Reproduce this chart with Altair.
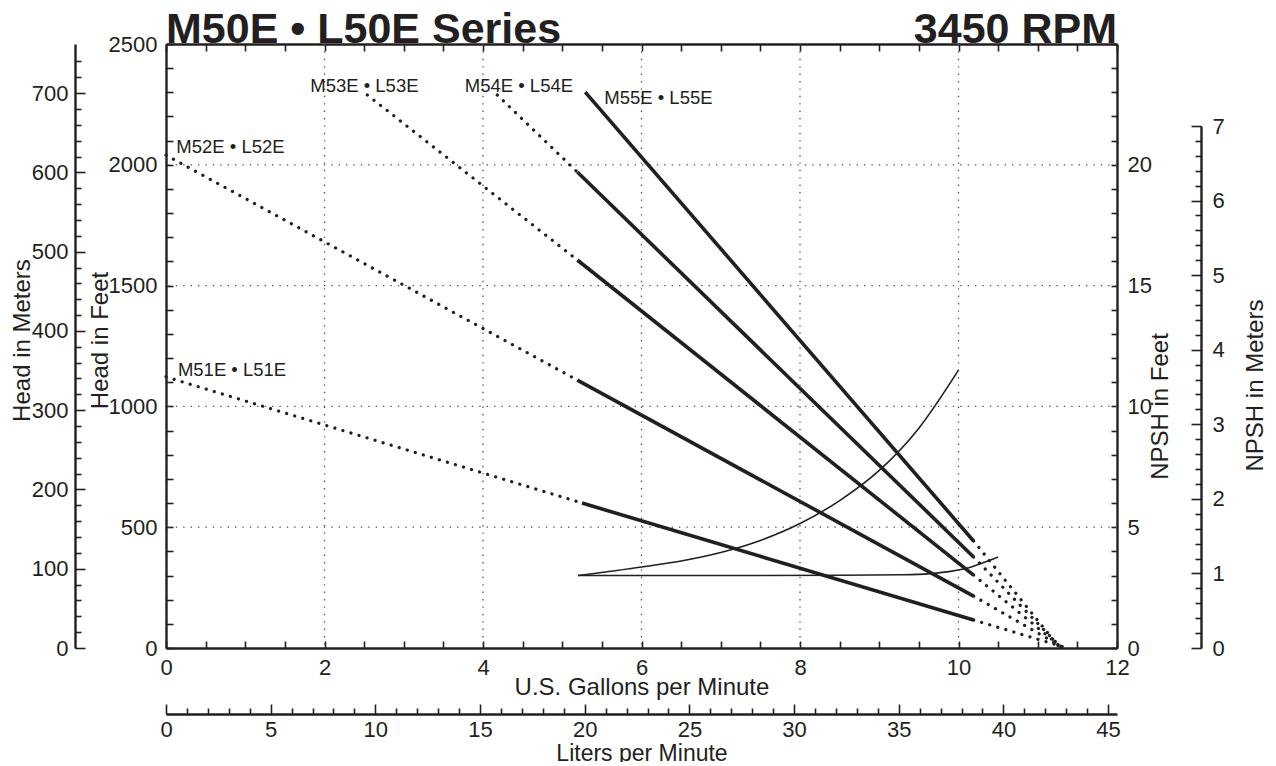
import altair as alt
import pandas as pd

W, H = 951, 604
INK = "#231f20"
FONT = "Liberation Sans"

# ---------------- data ----------------
models = ["M51E", "M52E", "M53E", "M54E", "M55E"]
dot_start_gpm = [0.0, 0.0, 2.54, 4.18, None]
dot_start_ft = [1122, 2040, 2289, 2289, None]
solid_start_gpm = [5.25, 5.19, 5.19, 5.19, 5.29]
solid_start_ft = [600, 1109, 1606, 1970, 2301]
solid_end_gpm = [10.19, 10.19, 10.19, 10.19, 10.19]
solid_end_ft = [116, 215, 302, 377, 443]
tail_end_gpm = [11.37, 11.33, 11.31, 11.30, 11.28]
tail_end_ft = [0, 0, 0, 0, 0]

label_text = ["M51E • L51E", "M52E • L52E", "M53E • L53E", "M54E • L54E", "M55E • L55E"]
label_gpm = [0.15, 0.13, 1.82, 3.77, 5.53]
label_ft = [1150, 2074, 2326, 2326, 2276]

npsh_a_gpm = [5.2, 6.0, 6.5, 7.0, 7.5, 8.0, 8.5, 9.0, 9.5, 10.0]
npsh_a_ft = [3.0, 3.35, 3.6, 3.95, 4.45, 5.15, 6.1, 7.35, 9.1, 11.5]
npsh_b_gpm = [5.2, 7.0, 8.5, 9.3, 9.65, 9.9, 10.1, 10.3, 10.5]
npsh_b_ft = [3.0, 3.0, 3.01, 3.03, 3.08, 3.17, 3.3, 3.52, 3.77]

grid_gpm = [2, 4, 6, 8, 10]
grid_ft = [500, 1000, 1500, 2000]

gpm_ticks = [i * 0.5 for i in range(25)]
ft_ticks = list(range(0, 2501, 100))
npsh_ft_ticks = list(range(0, 26))
lpm_ticks = list(range(0, 46))
head_m_ticks = list(range(0, 741, 20))
npsh_m_ticks = [round(i * 0.2, 1) for i in range(36)]

# ---------------- tables ----------------
rows = []
for i, m in enumerate(models):
    if dot_start_gpm[i] is not None:
        rows.append(dict(key=m + "a", style="dot", gpm=dot_start_gpm[i], ft=dot_start_ft[i]))
        rows.append(dict(key=m + "a", style="dot", gpm=solid_start_gpm[i], ft=solid_start_ft[i]))
    rows.append(dict(key=m + "b", style="solid", gpm=solid_start_gpm[i], ft=solid_start_ft[i]))
    rows.append(dict(key=m + "b", style="solid", gpm=solid_end_gpm[i], ft=solid_end_ft[i]))
    rows.append(dict(key=m + "c", style="dot", gpm=solid_end_gpm[i], ft=solid_end_ft[i]))
    rows.append(dict(key=m + "c", style="dot", gpm=tail_end_gpm[i], ft=tail_end_ft[i]))
curves = pd.DataFrame(rows)
labels = pd.DataFrame({"text": label_text, "gpm": label_gpm, "ft": label_ft})
npsh = pd.concat([
    pd.DataFrame({"curve": "a", "gpm": npsh_a_gpm, "npsh": npsh_a_ft}),
    pd.DataFrame({"curve": "b", "gpm": npsh_b_gpm, "npsh": npsh_b_ft}),
])
gx = pd.DataFrame({"gpm": grid_gpm})
gy = pd.DataFrame({"ft": grid_ft})
one = pd.DataFrame({"lpm": [0], "hm": [0], "nm": [0]})

# ---------------- axes ----------------
axis_gpm = alt.Axis(orient="top", offset=-H, values=gpm_ticks, tickSize=7, labelPadding=-16,
                    labelBaseline="top", labelAlign="center",
                    labelExpr="datum.value % 2 === 0 ? format(datum.value, 'd') : ''",
                    title="U.S. Gallons per Minute", titleX=W / 2, titleY=39,
                    titleBaseline="middle", titleAlign="center", titleAngle=0)
axis_top = alt.Axis(orient="bottom", offset=-H, values=gpm_ticks, tickSize=7, labels=False, title=None)
axis_ft = alt.Axis(orient="right", offset=-W, values=ft_ticks, tickSize=7, labelPadding=-16,
                   labelAlign="right", labelBaseline="middle",
                   labelExpr="datum.value % 500 === 0 ? format(datum.value, 'd') : ''",
                   title="Head in Feet", titleAngle=270, titleX=-66, titleY=296,
                   titleAlign="center", titleBaseline="middle")
axis_npsh = alt.Axis(orient="left", offset=-W, values=npsh_ft_ticks, tickSize=6, labelPadding=-16,
                     labelAlign="left", labelBaseline="middle",
                     labelExpr="(datum.value % 5 === 0 && datum.value <= 20) ? format(datum.value, 'd') : ''",
                     title="NPSH in Feet", titleAngle=270, titleX=43, titleY=362,
                     titleAlign="center", titleBaseline="middle")
axis_lpm = alt.Axis(orient="top", offset=-(H + 66), values=lpm_ticks,
                    tickSize={"condition": {"test": "datum.value % 5 === 0", "value": 10}, "value": 6},
                    labelPadding=-15, labelBaseline="top", labelAlign="center",
                    labelExpr="datum.value % 5 === 0 ? format(datum.value, 'd') : ''",
                    title="Liters per Minute", titleX=W / 2, titleY=46, titleFontSize=23,
                    titleBaseline="alphabetic", titleAlign="center", titleAngle=0)
axis_hm = alt.Axis(orient="right", offset=-(W + 91), values=head_m_ticks,
                   tickSize={"condition": {"test": "datum.value % 100 === 0", "value": 10}, "value": 6},
                   labelPadding=-17, labelAlign="right", labelBaseline="middle",
                   labelExpr="datum.value % 100 === 0 ? format(datum.value, 'd') : ''",
                   title="Head in Meters", titleAngle=270, titleX=-53, titleY=296,
                   titleAlign="center", titleBaseline="middle")
axis_nm = alt.Axis(orient="left", offset=-(W + 84), values=npsh_m_ticks,
                   tickSize={"condition": {"test": "datum.value % 1 === 0", "value": 10}, "value": 6},
                   labelPadding=-21, labelAlign="left", labelBaseline="middle",
                   labelExpr="datum.value % 1 === 0 ? format(datum.value, 'd') : ''",
                   title="NPSH in Meters", titleAngle=270, titleX=54, titleY=341,
                   titleAlign="center", titleBaseline="middle")

xs = alt.Scale(domain=[0, 12], nice=False, zero=False)
ys = alt.Scale(domain=[0, 2500], nice=False, zero=False)
X = alt.X("gpm:Q", scale=xs, axis=axis_gpm)
Y = alt.Y("ft:Q", scale=ys, axis=axis_ft)

grid_style = dict(color="#555555", strokeWidth=1.3, strokeDash=[1.4, 6])
vgrid = alt.Chart(gx).mark_rule(**grid_style).encode(x=X)
hgrid = alt.Chart(gy).mark_rule(**grid_style).encode(y=Y)

solid = alt.Chart(curves).transform_filter("datum.style === 'solid'").mark_line(
    color=INK, strokeWidth=3.6).encode(x=X, y=Y, detail="key:N")
dotted = alt.Chart(curves).transform_filter("datum.style === 'dot'").mark_line(
    color=INK, strokeWidth=3.2, strokeCap="round", strokeDash=[0.1, 8.3]).encode(x=X, y=Y, detail="key:N")
text = alt.Chart(labels).mark_text(align="left", baseline="middle", font=FONT, fontSize=18.5,
                                   color=INK).encode(x=X, y=Y, text="text:N")
head_title = alt.Chart(pd.DataFrame({"t": ["M50E • L50E Series"]})).mark_text(
    align="left", baseline="alphabetic", font=FONT, fontWeight="bold",
    fontSize=43, color=INK).encode(x=alt.value(0), y=alt.value(-1), text="t:N")
rpm_title = alt.Chart(pd.DataFrame({"t": ["3450 RPM"]})).mark_text(
    align="right", baseline="alphabetic", font=FONT, fontWeight="bold",
    fontSize=43, color=INK).encode(x=alt.value(W), y=alt.value(-1), text="t:N")

head_layer = alt.layer(vgrid, hgrid, dotted, solid, text, head_title, rpm_title)

npsh_layer = alt.Chart(npsh).mark_line(color=INK, strokeWidth=1.6, interpolate="monotone").encode(
    x=alt.X("gpm:Q", scale=alt.Scale(domain=[0, 12], nice=False, zero=False), axis=axis_top),
    y=alt.Y("npsh:Q", scale=alt.Scale(domain=[0, 25], nice=False, zero=False), axis=axis_npsh),
    detail="curve:N",
)

meters_layer = alt.Chart(one).mark_point(opacity=0).encode(
    x=alt.X("lpm:Q", scale=alt.Scale(domain=[0, 12 * 3.78541], nice=False, zero=False), axis=axis_lpm),
    y=alt.Y("hm:Q", scale=alt.Scale(domain=[0, 2500 / 3.28084], nice=False, zero=False), axis=axis_hm),
)

npsh_m_layer = alt.Chart(one).mark_point(opacity=0).encode(
    y=alt.Y("nm:Q", scale=alt.Scale(domain=[0, 7], range=[H, 82], nice=False, zero=False), axis=axis_nm),
)

chart = alt.layer(head_layer, npsh_layer, meters_layer, npsh_m_layer).resolve_scale(
    x="independent", y="independent"
).properties(
    width=W, height=H,
    autosize=alt.AutoSizeParams(type="none"),
    padding={"left": 158, "top": 36, "right": 149, "bottom": 114},
    background="white",
).configure_view(stroke="transparent").configure_axis(
    domainColor=INK, domainWidth=2.4, tickColor=INK, tickWidth=1.6,
    labelColor=INK, titleColor=INK, labelFont=FONT, titleFont=FONT,
    labelFontSize=22, titleFontSize=24, titleFontWeight="normal",
    grid=False, labelFlush=False, labelOverlap=False,
)

chart.save("out.html", embed_options={"renderer": "svg", "actions": False})
